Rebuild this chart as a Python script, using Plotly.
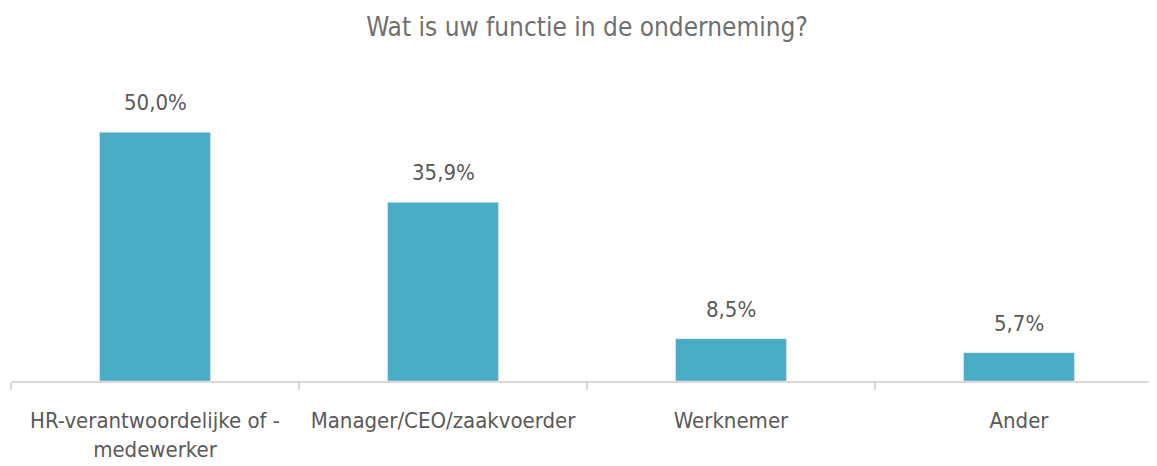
import plotly.graph_objects as go

categories = ["HR-verantwoordelijke of -<br>medewerker", "Manager/CEO/zaakvoerder", "Werknemer", "Ander"]
values = [50.0, 35.9, 8.5, 5.7]
title_text = "Wat is uw functie in de onderneming?"

FONT = "DejaVu Sans Condensed, DejaVu Sans, sans-serif"
GRAY = "#595959"

fig = go.Figure()
fig.add_trace(go.Bar(
    x=categories, y=values, marker_color="#4BACC6", width=0.385,
    hoverinfo="skip",
))
for c, v in zip(categories, values):
    fig.add_annotation(x=c, y=v, text=f"{v:.1f}".replace(".", ",") + "%",
                       showarrow=False, yanchor="bottom", yshift=15,
                       font=dict(family=FONT, size=22, color=GRAY))

fig.update_layout(
    width=1157, height=466,
    margin=dict(l=3, r=2, t=52, b=93),
    paper_bgcolor="white", plot_bgcolor="white",
    showlegend=False,
    title=dict(text=title_text, x=0.5, xref="paper", xanchor="center",
               y=1 - 19 / 466, yref="container", yanchor="middle",
               font=dict(family=FONT, size=26, color="#6f6f6f")),
    xaxis=dict(range=[-0.5, 3.5], showline=True, linecolor="#d9d9d9", linewidth=2,
               ticks="outside", tickson="boundaries", ticklen=7, tickcolor="#d9d9d9",
               tickwidth=2, showgrid=False, tickangle=0, automargin=False,
               ticklabelstandoff=19,
               tickfont=dict(family=FONT, size=22, color=GRAY)),
    yaxis=dict(range=[0, 64.5], visible=False, showgrid=False),
)
fig.write_html("out.html")
